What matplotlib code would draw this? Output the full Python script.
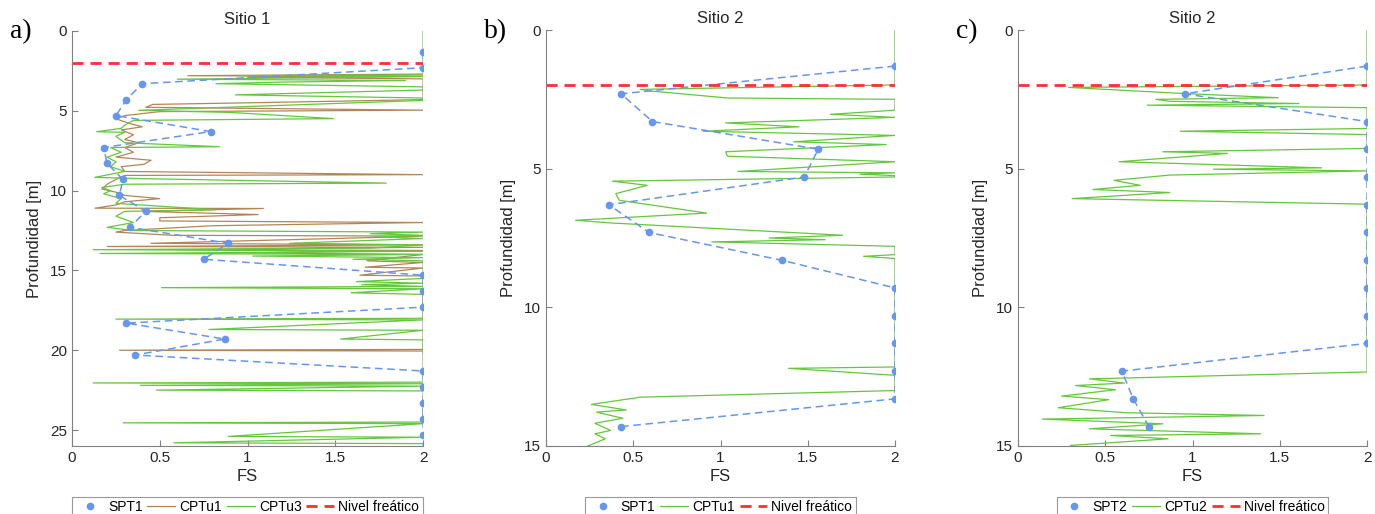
import matplotlib
matplotlib.use('Agg')
from matplotlib import pyplot as plt

plt.rcParams['font.family'] = ['Liberation Sans', 'DejaVu Sans']

# ---- datos (profundidad [m], FS) ----
spt_a_prof = [1.3, 2.3, 3.3, 4.3, 5.3, 6.3, 7.3, 8.3, 9.3, 10.3, 11.3, 12.3, 13.3, 14.3,
              15.3, 16.3, 17.3, 18.3, 19.3, 20.3, 21.3, 22.3, 23.3, 24.3, 25.3]
spt_a_fs = [2, 2, 0.40, 0.31, 0.25, 0.79, 0.18, 0.20, 0.29, 0.27, 0.42, 0.33, 0.89, 0.75,
            2, 2, 2, 0.31, 0.87, 0.36, 2, 2, 2, 2, 2]

cptu1_a_prof = [2.70, 2.80, 2.85, 2.90, 3.00, 3.35, 4.30, 4.50, 4.60, 4.78, 4.96, 5.05, 5.30,
                5.50, 5.80, 6.00, 6.20, 6.50, 6.80, 7.00, 7.30, 7.60, 7.90, 8.10, 8.35, 8.50,
                8.80, 9.00, 9.05, 9.30, 9.60, 9.90, 10.10, 10.30, 10.50, 10.70, 10.90, 11.10,
                11.12, 11.30, 11.50, 11.70, 11.90, 12.00, 12.20, 12.50, 12.60, 12.80, 12.85,
                13.00, 13.30, 13.40, 13.50, 13.55, 13.70, 13.75, 13.90, 14.00, 14.40, 14.50,
                14.80, 14.85, 15.30, 15.35, 19.95, 20.00, 20.05, 20.20]
cptu1_a_fs = [2, 0.66, 2, 1.00, 2, 2, 2, 1.00, 0.46, 0.42, 2, 0.50, 0.30,
              0.25, 0.33, 0.40, 0.28, 0.35, 0.30, 0.38, 0.30, 0.35, 0.25, 0.45, 0.41, 0.28,
              0.30, 2, 0.30, 0.25, 0.20, 0.17, 0.25, 0.30, 0.50, 0.30, 0.25, 0.13,
              1.09, 0.40, 1.06, 0.50, 0.50, 2, 0.80, 0.30, 0.25, 0.57, 2,
              1.50, 0.45, 2, 0.20, 2, 0.60, 2, 1.00, 2, 1.68, 2,
              1.67, 2, 1.64, 2, 2, 0.27, 2, 2]

cptu3_a_prof = [0.0, 2.75, 2.80, 2.85, 3.02, 3.10, 3.20, 3.30, 3.50, 3.70, 4.00, 4.20, 4.35,
                4.97, 5.10, 5.49, 5.60, 5.90, 6.10, 6.31, 6.35, 6.60, 7.00, 7.25, 7.30, 7.60,
                7.90, 8.20, 8.50, 8.80, 9.17, 9.25, 9.53, 9.60, 9.80, 10.00, 10.20, 10.50,
                10.80, 11.20, 11.30, 11.60, 12.00, 12.30, 12.50, 12.60, 12.70, 12.80, 12.90,
                13.00, 13.30, 13.40, 13.60, 13.70, 13.80, 13.94, 14.00, 14.10, 14.20, 14.30,
                14.40, 15.50, 15.70, 15.80, 15.90, 16.00, 16.08, 16.15, 16.40, 16.50, 18.00,
                18.05, 18.10, 18.70, 18.75, 19.30, 19.35, 22.00, 22.05, 22.10, 22.20, 22.25,
                22.50, 22.55, 24.50, 24.55, 24.60, 25.40, 25.45, 25.80, 25.85, 26.0]
cptu3_a_fs = [2, 2, 0.95, 2, 0.60, 1.90, 1.20, 0.82, 2, 2, 0.93, 2, 2,
              0.38, 0.90, 1.49, 0.35, 0.30, 0.28, 0.14, 0.30, 0.25, 0.30, 0.84, 0.22, 0.28,
              0.20, 0.25, 0.22, 0.30, 0.13, 0.40, 1.79, 0.30, 0.17, 0.22, 0.18, 0.28,
              0.25, 0.82, 0.30, 0.25, 0.35, 0.20, 0.35, 2, 1.70, 2, 1.75,
              2, 1.24, 2, 1.70, 0.12, 2, 0.16, 2, 1.03, 2, 1.60,
              2, 2, 1.62, 2, 1.65, 2, 0.51, 2, 1.59, 2, 2,
              0.25, 2, 0.78, 2, 1.53, 2, 2, 0.12, 2, 0.39, 2,
              0.48, 2, 2, 0.29, 2, 0.89, 2, 0.58, 2, 2]

spt_b_prof = [1.3, 2.3, 3.3, 4.3, 5.3, 6.3, 7.3, 8.3, 9.3, 10.3, 11.3, 12.3, 13.3, 14.3]
spt_b_fs = [2, 0.43, 0.61, 1.56, 1.48, 0.36, 0.59, 1.35, 2, 2, 2, 2, 2, 0.43]

cptu1_b_prof = [0.0, 1.98, 2.14, 2.20, 2.45, 2.50, 2.89, 3.04, 3.15, 3.35, 3.49, 3.65, 3.80,
                4.03, 4.13, 4.39, 4.55, 4.75, 5.10, 5.15, 5.20, 5.25, 5.30, 5.45, 5.60, 5.90,
                6.14, 6.60, 6.86, 6.96, 7.40, 7.50, 7.56, 7.64, 7.80, 8.10, 8.16, 8.24, 12.15,
                12.20, 12.45, 13.00, 13.24, 13.50, 13.70, 13.78, 14.00, 14.18, 14.44, 14.56,
                14.74, 15.0]
cptu1_b_fs = [2, 2, 0.54, 0.60, 1.04, 2, 2, 1.63, 2, 1.03, 1.45, 0.90, 2,
              1.42, 1.95, 1.03, 1.04, 2, 1.10, 2, 1.80, 2, 2, 0.38, 0.58, 0.40,
              0.42, 0.92, 0.17, 0.38, 1.70, 1.28, 1.60, 0.95, 2, 2, 1.82, 2, 2,
              1.39, 2, 2, 0.54, 0.26, 0.46, 0.29, 0.44, 0.28, 0.37, 0.28,
              0.34, 0.24]

spt_c_prof = [1.3, 2.3, 3.3, 4.3, 5.3, 6.3, 7.3, 8.3, 9.3, 10.3, 11.3, 12.3, 13.3, 14.3]
spt_c_fs = [2, 0.955, 2, 2, 2, 2, 2, 2, 2, 2, 2, 0.595, 0.66, 0.75]

cptu2_c_prof = [0.0, 1.98, 2.07, 2.29, 2.44, 2.50, 2.57, 2.65, 2.71, 2.80, 3.55, 3.65, 3.77,
                4.27, 4.39, 4.45, 4.75, 4.84, 4.97, 5.02, 5.08, 5.23, 5.42, 5.60, 5.75, 5.86,
                6.08, 6.28, 12.33, 12.58, 12.73, 12.82, 12.97, 13.20, 13.33, 13.62, 13.80,
                13.90, 14.03, 14.20, 14.38, 14.56, 14.62, 14.74, 14.98]
cptu2_c_fs = [2, 2, 0.29, 0.95, 1.49, 0.79, 0.87, 1.61, 0.74, 2, 2, 0.93, 2,
              2, 0.83, 1.20, 0.58, 1.06, 1.74, 1.12, 2, 0.87, 0.55, 0.70, 0.43, 0.87,
              0.31, 2, 2, 0.41, 0.61, 0.33, 0.56, 0.25, 0.52, 0.23, 0.62,
              1.41, 0.14, 0.83, 0.41, 1.39, 0.53, 0.86, 0.30]

nivel_freatico = 2.0

c_spt = '#6596f0'
c_cpt1 = '#b5855a'
c_cpt3 = '#63c83c'
c_nf = '#ff3030'
gris = '#262626'

fig = plt.figure(figsize=(13.75, 5.14), dpi=100)

paneles = [
    ('a)', 'Sitio 1', [0.0524, 0.1323, 0.2553, 0.8074], 26, [0, 5, 10, 15, 20, 25]),
    ('b)', 'Sitio 2', [0.3971, 0.1323, 0.2538, 0.8093], 15, [0, 5, 10, 15]),
    ('c)', 'Sitio 2', [0.7404, 0.1323, 0.2538, 0.8093], 15, [0, 5, 10, 15]),
]

for k, (letra, titulo, pos, pmax, yt) in enumerate(paneles):
    ax = fig.add_axes(pos)
    if k == 0:
        ax.plot(cptu1_a_fs, cptu1_a_prof, color=c_cpt1, lw=0.9, label='CPTu1')
        ax.plot(cptu3_a_fs, cptu3_a_prof, color=c_cpt3, lw=0.9, label='CPTu3')
        ax.plot(spt_a_fs, spt_a_prof, color=c_spt, lw=1.1, ls=(0, (5, 3)))
        ax.plot(spt_a_fs, spt_a_prof, 'o', color=c_spt, ms=4.5, label='SPT1')
        orden = ['SPT1', 'CPTu1', 'CPTu3', 'Nivel freático']
    elif k == 1:
        ax.plot(cptu1_b_fs, cptu1_b_prof, color=c_cpt3, lw=0.9, label='CPTu1')
        ax.plot(spt_b_fs, spt_b_prof, color=c_spt, lw=1.1, ls=(0, (5, 3)))
        ax.plot(spt_b_fs, spt_b_prof, 'o', color=c_spt, ms=4.5, label='SPT1')
        orden = ['SPT1', 'CPTu1', 'Nivel freático']
    else:
        ax.plot(cptu2_c_fs, cptu2_c_prof, color=c_cpt3, lw=0.9, label='CPTu2')
        ax.plot(spt_c_fs, spt_c_prof, color=c_spt, lw=1.1, ls=(0, (5, 3)))
        ax.plot(spt_c_fs, spt_c_prof, 'o', color=c_spt, ms=4.5, label='SPT2')
        orden = ['SPT2', 'CPTu2', 'Nivel freático']
    ax.plot([0, 2], [nivel_freatico, nivel_freatico], color=c_nf, lw=2, ls=(0, (4, 2.5)),
            label='Nivel freático')

    ax.set_xlim(0, 2)
    ax.set_ylim(pmax, 0)
    ax.set_yticks(yt)
    ax.set_xticks([0, 0.5, 1, 1.5, 2])
    ax.set_xticklabels(['0', '0.5', '1', '1.5', '2'])
    ax.spines['top'].set_visible(False)
    ax.spines['right'].set_visible(False)
    for s in ['left', 'bottom']:
        ax.spines[s].set_color('#808080')
    ax.tick_params(direction='in', length=4, colors='#808080', labelcolor=gris, labelsize=11)
    ax.set_xlabel('FS', fontsize=12, color=gris, labelpad=3)
    ax.set_ylabel('Profundidad [m]', fontsize=12, color=gris, labelpad=6)
    ax.set_title(titulo, fontsize=12, color=gris, pad=5)

    hs, ls = ax.get_legend_handles_labels()
    d = dict(zip(ls, hs))
    leg = ax.legend([d[n] for n in orden], orden, loc='upper center',
                    bbox_to_anchor=(0.5, -0.122), ncol=len(orden), fontsize=10,
                    frameon=True, fancybox=False, edgecolor='#808080',
                    handlelength=2.0, handletextpad=0.3, columnspacing=0.35,
                    borderpad=0.25, borderaxespad=0)
    leg.get_frame().set_linewidth(0.8)

    fig.text(pos[0] - 0.045, 0.925, letra, fontsize=20, family='Liberation Serif',
             color='black', ha='left', va='baseline')

fig.savefig('out.png', dpi=100)
